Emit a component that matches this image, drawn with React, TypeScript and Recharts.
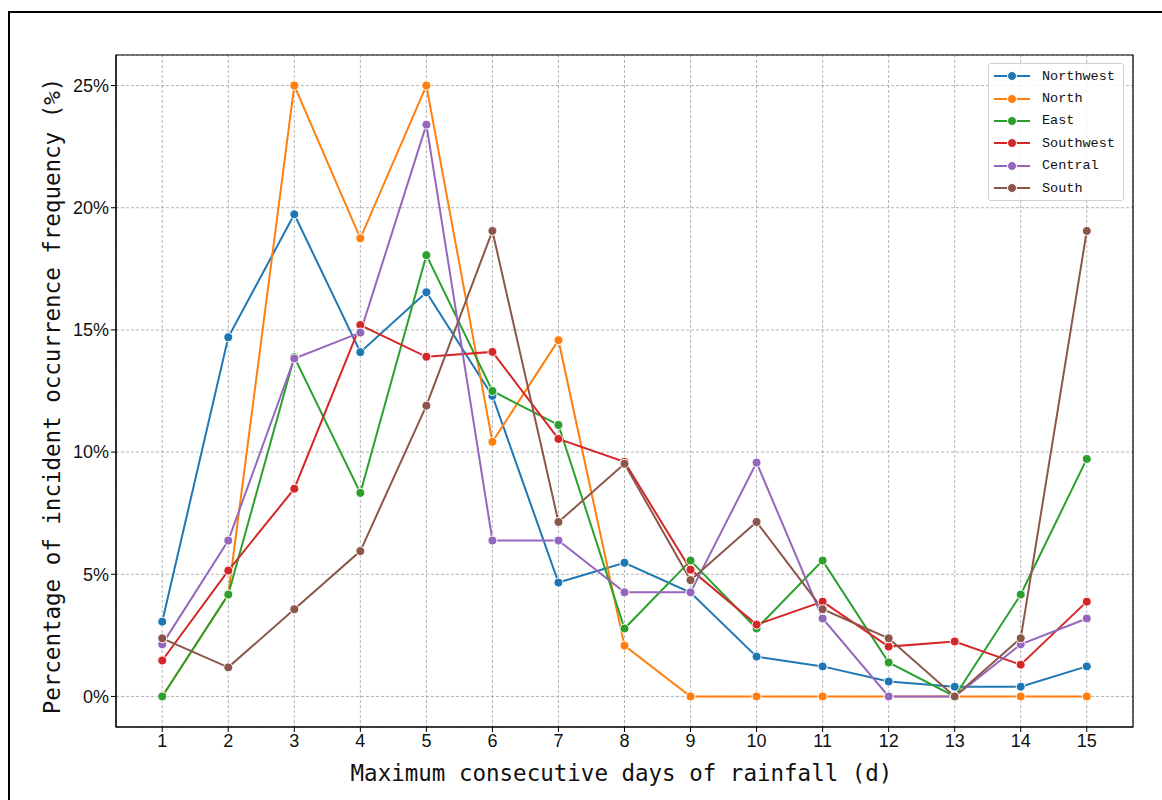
import React from 'react';
import {
  LineChart,
  Line,
  XAxis,
  YAxis,
  CartesianGrid,
  Legend,
  ReferenceArea,
} from 'recharts';

// x categories: maximum consecutive days of rainfall
const days = [1, 2, 3, 4, 5, 6, 7, 8, 9, 10, 11, 12, 13, 14, 15];

// percentage of occurrence per region
const northwest = [3.06, 14.7, 19.73, 14.09, 16.54, 12.3, 4.66, 5.47, 4.25, 1.63, 1.23, 0.61, 0.4, 0.4, 1.23];
const north = [0, 4.17, 25, 18.75, 25, 10.42, 14.58, 2.08, 0, 0, 0, 0, 0, 0, 0];
const east = [0, 4.17, 13.89, 8.33, 18.06, 12.5, 11.11, 2.78, 5.56, 2.78, 5.56, 1.39, 0, 4.17, 9.72];
const southwest = [1.47, 5.15, 8.5, 15.2, 13.9, 14.1, 10.54, 9.6, 5.19, 2.94, 3.88, 2.04, 2.25, 1.3, 3.88];
const central = [2.13, 6.38, 13.83, 14.89, 23.4, 6.38, 6.38, 4.26, 4.26, 9.57, 3.19, 0, 0, 2.13, 3.19];
const south = [2.38, 1.19, 3.57, 5.95, 11.9, 19.05, 7.14, 9.52, 4.76, 7.14, 3.57, 2.38, 0, 2.38, 19.05];

const yTicks = [0, 5, 10, 15, 20, 25];

const series = [
  { key: 'Northwest', values: northwest, color: '#1f77b4' },
  { key: 'North', values: north, color: '#ff7f0e' },
  { key: 'East', values: east, color: '#2ca02c' },
  { key: 'Southwest', values: southwest, color: '#d62728' },
  { key: 'Central', values: central, color: '#9467bd' },
  { key: 'South', values: south, color: '#8c564b' },
];

const data = days.map((d, i) => {
  const row: Record<string, number> = { day: d };
  series.forEach((s) => { row[s.key] = s.values[i]; });
  return row;
});

const FONT = '"Liberation Mono", "DejaVu Sans Mono", monospace';
const TITLE_FONT = '"DejaVu Sans Mono", "Liberation Mono", monospace';
const TICK_FONT = '"Liberation Sans Narrow", "Liberation Sans", Arial, sans-serif';

function LegendBox() {
  return (
    <div style={{
      border: '1px solid #d0d0d0', borderRadius: 3, background: 'rgba(255,255,255,0.85)',
      padding: '1px 8px 1px 5px', fontFamily: FONT, fontSize: 13.5, color: '#111',
    }}>
      {series.map((s) => (
        <div key={s.key} style={{ display: 'flex', alignItems: 'center', height: 22.4 }}>
          <svg width={36} height={12} style={{ marginRight: 12 }}>
            <line x1={0} y1={6} x2={36} y2={6} stroke={s.color} strokeWidth={2} />
            <circle cx={18} cy={6} r={4.5} fill={s.color} stroke="#fff" strokeWidth={1} />
          </svg>
          <span>{s.key}</span>
        </div>
      ))}
    </div>
  );
}

export default function App() {
  return (
    <div style={{ position: 'absolute', left: 0, top: 0, width: 1162, height: 800, overflow: 'hidden', background: '#fff' }}>
      <div style={{ position: 'absolute', left: 8, top: 11, width: 1170, height: 820, border: '2px solid #000' }} />
      <div style={{ position: 'absolute', left: 0, top: 0 }}>
        <LineChart width={1162} height={800} data={data}
          margin={{ top: 55, right: 29, left: 56, bottom: 33 }}>
          <CartesianGrid stroke="#a0a0a0" strokeDasharray="3 2" strokeWidth={0.8} />
          <XAxis dataKey="day" type="number" domain={[0.3, 15.7]} ticks={days}
            allowDataOverflow height={40} interval={0}
            stroke="#000" tickSize={5}
            tick={{ fill: '#111', fontSize: 18, fontFamily: TICK_FONT }}
            label={({ viewBox }: any) => (
              <text x={viewBox.x + viewBox.width / 2 - 3} y={781} textAnchor="middle"
                fontFamily={TITLE_FONT} fontSize={22.5} fill="#111">
                Maximum consecutive days of rainfall (d)
              </text>
            )} />
          <YAxis type="number" domain={[-1.25, 26.25]} ticks={yTicks} allowDataOverflow
            width={60} stroke="#000" tickSize={5}
            tickFormatter={(v) => `${v}%`}
            tick={{ fill: '#111', fontSize: 18, fontFamily: TICK_FONT }}
            label={() => (
              <text x={60} y={396} transform={`rotate(-90, 60, 396)`} textAnchor="middle"
                fontFamily={TITLE_FONT} fontSize={22.5} fill="#111">
                Percentage of incident occurrence frequency (%)
              </text>
            )} />
          <ReferenceArea x1={0.3} x2={15.7} y1={-1.25} y2={26.25}
            fill="none" stroke="#000" strokeWidth={1.2} ifOverflow="visible" />
          {series.map((s) => (
            <Line key={s.key} type="linear" dataKey={s.key} name={s.key}
              stroke={s.color} strokeWidth={2}
              dot={{ r: 4.5, fill: s.color, stroke: '#fff', strokeWidth: 1 }}
              activeDot={false} isAnimationActive={false} />
          ))}
          <Legend layout="vertical" align="center" verticalAlign="middle"
            content={() => <LegendBox />}
            wrapperStyle={{ position: 'absolute', left: 988, top: 63, width: 'auto' }} />
        </LineChart>
      </div>
    </div>
  );
}
